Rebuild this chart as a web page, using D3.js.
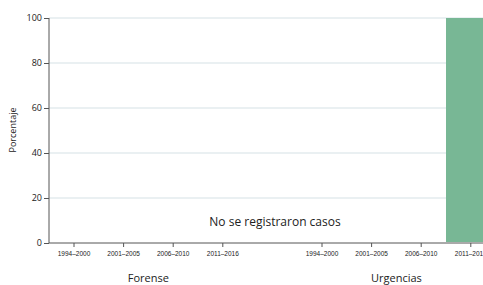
<!DOCTYPE html>
<html><head><meta charset="utf-8">
<script src="https://cdn.jsdelivr.net/npm/d3@7"></script>
<style>
body{margin:0;background:#fff;}
svg{display:block;font-family:"Open Sans",sans-serif;}
</style></head>
<body><svg id="c" width="483" height="285"></svg>
<script>
const groups = ["Forense", "Urgencias"];
const periods = ["1994–2000", "2001–2005", "2006–2010", "2011–2016"];
const forenseValues = [null, null, null, null];
const urgenciasValues = [0, 0, 0, 100];
const yTicks = [0, 20, 40, 60, 80, 100];
const emptyNote = "No se registraron casos";
const yLabel = "Porcentaje";

const svg = d3.select("#c");
const m = {left: 49, top: 18, bottom: 243};
const step = 49.6;
const slots = [];
groups.forEach((g, gi) => {
  periods.forEach(p => slots.push(g + "|" + p));
  if (gi < groups.length - 1) slots.push("gap" + gi);
});
const x = d3.scaleBand().domain(slots).range([49.2, 49.2 + step * slots.length]).padding(0);
const y = d3.scaleLinear().domain([0, 100]).range([m.bottom, m.top]);

// grid
svg.append("g").selectAll("line").data(yTicks.filter(d => d > 0)).join("line")
  .attr("x1", m.left).attr("x2", 483).attr("y1", d => y(d)).attr("y2", d => y(d))
  .attr("stroke", "#e3ebee").attr("stroke-width", 1.5);

// bars
const data = [];
periods.forEach((p, i) => {
  if (forenseValues[i] != null) data.push({k: "Forense|" + p, v: forenseValues[i]});
  if (urgenciasValues[i] != null) data.push({k: "Urgencias|" + p, v: urgenciasValues[i]});
});
svg.append("g").selectAll("rect").data(data.filter(d => d.v > 0)).join("rect")
  .attr("x", d => x(d.k)).attr("width", x.bandwidth())
  .attr("y", d => y(d.v)).attr("height", d => y(0) - y(d.v) - 1)
  .attr("fill", "#78b795");

// y axis
const ya = svg.append("g").attr("transform", `translate(${m.left},0)`)
  .call(d3.axisLeft(y).tickValues(yTicks).tickSize(5).tickPadding(2));
ya.select(".domain").attr("stroke", "#555").attr("d", `M0,${m.top}V${m.bottom}`);
ya.selectAll(".tick line").attr("stroke", "#555");
ya.selectAll("text").attr("font-size", 9).attr("fill", "#222").attr("font-family", "Open Sans");

// x axis
const xa = svg.append("g").attr("transform", `translate(0,${m.bottom})`)
  .call(d3.axisBottom(x).tickValues(slots.filter(s => s.includes("|"))).tickSize(4).tickPadding(4)
    .tickFormat(d => d.split("|")[1]));
xa.select(".domain").attr("stroke", "#555").attr("d", `M${m.left},0H483`);
xa.selectAll(".tick line").attr("stroke", "#555");
xa.selectAll("text").attr("font-size", 6.5).attr("fill", "#222");

// group labels
groups.forEach(g => {
  const a = x(g + "|" + periods[0]) + x.bandwidth() / 2;
  const b = x(g + "|" + periods[periods.length - 1]) + x.bandwidth() / 2;
  svg.append("text").attr("x", (a + b) / 2).attr("y", 282).attr("text-anchor", "middle")
    .attr("font-size", 11).attr("fill", "#222").text(g);
});

// note
svg.append("text").attr("x", 275).attr("y", 226).attr("text-anchor", "middle")
  .attr("font-size", 12).attr("fill", "#222").text(emptyNote);

// y label
svg.append("text").attr("transform", "translate(16,130) rotate(-90)").attr("text-anchor", "middle")
  .attr("font-size", 9).attr("fill", "#222").text(yLabel);
</script></body></html>
